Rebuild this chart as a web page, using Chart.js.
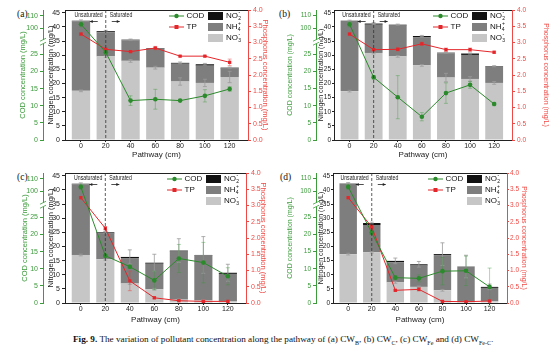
<!DOCTYPE html>
<html>
<head>
<meta charset="utf-8">
<script src="https://cdn.jsdelivr.net/npm/chart.js@4.4.1/dist/chart.umd.min.js"></script>
<style>
  body { margin: 0; width: 554px; height: 353px; position: relative; overflow: hidden; background: #fff; }
  canvas { position: absolute; }
  .tag { position: absolute; font-family: "Liberation Serif", "DejaVu Serif", serif; font-size: 9.5px; color: #111; }
  #caption { position: absolute; left: 73px; top: 334px; width: 420px; text-align: left; white-space: nowrap;
             font-family: "Liberation Serif", "DejaVu Serif", serif; font-size: 9.2px; color: #111; }
  #caption sub { font-size: 6px; }
</style>
</head>
<body>
<div class="tag" style="left:17px;top:9px">(a)</div>
<div class="tag" style="left:279px;top:9px">(b)</div>
<div class="tag" style="left:17px;top:172px">(c)</div>
<div class="tag" style="left:280px;top:172px">(d)</div>
<div id="caption"><b>Fig. 9.</b> The variation of pollutant concentration along the pathway of (a) CW<sub>B</sub>, (b) CW<sub>C</sub>, (c) CW<sub>Fe</sub> and (d) CW<sub>Fe-C</sub>.</div>

<script>
// sampling points along the flow path (cm)
const pathway = [0, 20, 40, 60, 80, 100, 120];
const codTicks = [0, 5, 10, 15, 20, 25, 100, 110];

// (a) CW-B
const nitrateA = [17.4, 29.6, 28.0, 25.6, 20.7, 20.2, 22.3];
const ammoniumA = [24.6, 8.5, 7.3, 6.7, 6.3, 6.1, 3.0];
const nitriteA = [0.2, 0.4, 0.2, 0.2, 0.3, 0.5, 0.3];
const nitrateErrA = [0.3, 0.3, 0.5, 0.5, 1.3, 1.3, 2.0];
const totalErrA = [0.3, 0.3, 0.2, 0.2, 0.3, 0.3, 0.2];
const codA = [103.2, 25.6, 11.5, 11.9, 11.5, 12.9, 14.9];
const codErrA = [2.0, 0.8, 1.4, 2.9, 0.2, 1.8, 0.7];
const tpA = [3.26, 2.79, 2.72, 2.83, 2.58, 2.58, 2.39];
const tpErrA = [0.03, 0.03, 0.03, 0.05, 0.02, 0.02, 0.1];

// (b) CW-C
const nitrateB = [17.3, 30.8, 29.6, 26.4, 22.1, 21.6, 20.2];
const ammoniumB = [24.8, 10.0, 10.9, 9.9, 8.6, 8.5, 5.7];
const nitriteB = [0.1, 0.4, 0.3, 0.5, 0.2, 0.5, 0.2];
const nitrateErrB = [0.3, 0.3, 0.3, 0.3, 1.5, 0.8, 0.5];
const totalErrB = [0.2, 0.3, 0.2, 0.2, 0.2, 0.2, 0.2];
const codB = [103.2, 18.3, 12.5, 6.8, 13.7, 16.1, 10.5];
const codErrB = [2.0, 0.5, 6.3, 1.2, 3.0, 1.0, 0.5];
const tpB = [3.26, 2.78, 2.79, 2.96, 2.78, 2.78, 2.70];
const tpErrB = [0.03, 0.03, 0.05, 0.05, 0.05, 0.05, 0.03];

// (c) CW-Fe
const nitrateC = [17.0, 15.5, 6.9, 4.9, 1.2, 1.0, 0.7];
const ammoniumC = [25.0, 9.1, 9.0, 9.0, 17.0, 15.8, 9.6];
const nitriteC = [0.2, 0.4, 0.4, 0.35, 0.35, 0.2, 0.4];
const nitrateErrC = [0.3, 0.3, 0.3, 0.3, 0.2, 0.2, 0.2];
const totalErrC = [0.3, 0.3, 2.5, 3.0, 4.2, 6.5, 3.0];
const codC = [103.5, 13.8, 10.6, 6.6, 13.0, 11.8, 7.8];
const codErrC = [2.0, 0.5, 0.5, 2.7, 4.1, 5.9, 2.5];
const tpC = [3.24, 2.30, 0.68, 0.16, 0.07, 0.05, 0.05];
const tpErrC = [0.03, 0.05, 0.3, 0.03, 0.02, 0.02, 0.02];

// (d) CW-Fe-C
const nitrateD = [17.3, 18.0, 7.3, 5.7, 4.5, 0.3, 0.6];
const ammoniumD = [24.9, 9.6, 7.15, 7.55, 12.45, 12.5, 4.75];
const nitriteD = [0.1, 0.7, 0.45, 0.45, 0.35, 0.1, 0.35];
const nitrateErrD = [0.3, 0.3, 0.3, 0.3, 0.3, 0.1, 0.1];
const totalErrD = [0.3, 0.3, 1.0, 1.0, 4.0, 4.0, 1.0];
const codD = [103.5, 20.5, 7.4, 7.2, 9.3, 9.4, 4.7];
const codErrD = [2.0, 0.5, 0.5, 1.0, 4.0, 4.3, 5.5];
const tpD = [3.24, 2.34, 0.39, 0.42, 0.05, 0.04, 0.06];
const tpErrD = [0.03, 0.05, 0.02, 0.05, 0.02, 0.01, 0.02];

const GREEN = '#2b8a2b';
const GREEN_AX = '#3c9c3c';
const RED = '#e4262a';
const RED_AX = '#ee4a45';
const LIGHT = '#c6c6c6';
const DARK = '#7e7e7e';
const BLACK = '#111111';
const INK = '#222222';

Chart.defaults.font.family = '"Liberation Sans", Arial, sans-serif';

// COD axis has a break: 0..28.7 fills the lower part, 89.4..114.5 the top part
const codBreak = { lowMax: 28.7, highMin: 89.4, highMax: 114.5, frac: 0.756 };

class BrokenScale extends Chart.LinearScale {
  buildTicks() {
    return codTicks.map(v => ({ value: v }));
  }
  getPixelForValue(v) {
    const b = codBreak;
    const f = v <= b.lowMax
      ? v / b.lowMax * b.frac
      : b.frac + (v - b.highMin) / (b.highMax - b.highMin) * (1 - b.frac);
    return this.getPixelForDecimal(f);
  }
  getValueForPixel(px) {
    const b = codBreak;
    const f = this.getDecimalForPixel(px);
    return f <= b.frac ? f / b.frac * b.lowMax : b.highMin + (f - b.frac) / (1 - b.frac) * (b.highMax - b.highMin);
  }
}
BrokenScale.id = 'broken';
Chart.register(BrokenScale);

function errBar(ctx, x, y1, y2, color) {
  ctx.strokeStyle = color;
  ctx.lineWidth = 0.8;
  ctx.beginPath();
  ctx.moveTo(x, y1); ctx.lineTo(x, y2);
  ctx.moveTo(x - 2, y1); ctx.lineTo(x + 2, y1);
  ctx.moveTo(x - 2, y2); ctx.lineTo(x + 2, y2);
  ctx.stroke();
}

function ionLabel(ctx, text, x, y) {
  // 'NO2-' -> NO with subscript 2 and superscript -
  ctx.font = '8px "Liberation Sans"';
  ctx.fillText(text.slice(0, 2), x, y);
  const w = ctx.measureText(text.slice(0, 2)).width;
  ctx.font = '5px "Liberation Sans"';
  ctx.fillText(text[2], x + w + 0.3, y + 2.5);
  ctx.fillText(text[3], x + w + 0.5, y - 3);
}

function makeExtras(p) {
  return {
    id: 'extras',
    afterDatasetDraw(chart, args) {
      if (args.index !== 2) return;
      const { ctx, scales } = chart;
      ctx.save();
      pathway.forEach((x, i) => {
        const px = scales.x.getPixelForValue(x);
        const total = p.nitrate[i] + p.ammonium[i] + p.nitrite[i];
        errBar(ctx, px, scales.n.getPixelForValue(p.nitrate[i] + p.nitrateErr[i]),
               scales.n.getPixelForValue(p.nitrate[i] - p.nitrateErr[i]), '#9a9a9a');
        errBar(ctx, px, scales.n.getPixelForValue(total + p.totalErr[i]),
               scales.n.getPixelForValue(total - p.totalErr[i]), '#9a9a9a');
        errBar(ctx, px, scales.cod.getPixelForValue(p.cod[i] + p.codErr[i]),
               scales.cod.getPixelForValue(p.cod[i] - p.codErr[i]), 'rgba(60,150,60,0.5)');
        errBar(ctx, px, scales.p.getPixelForValue(p.tp[i] + p.tpErr[i]),
               scales.p.getPixelForValue(p.tp[i] - p.tpErr[i]), 'rgba(230,60,60,0.55)');
      });
      ctx.restore();
    },
    afterDraw(chart) {
      const { ctx, chartArea: a, scales } = chart;
      const ds = chart.data.datasets;
      ctx.save();
      // top frame line
      ctx.strokeStyle = INK; ctx.lineWidth = 1;
      ctx.beginPath(); ctx.moveTo(a.left, a.top + 0.5); ctx.lineTo(a.right, a.top + 0.5); ctx.stroke();

      // unsaturated / saturated divider
      const lx = scales.x.getPixelForValue(20);
      ctx.setLineDash([3, 2]); ctx.strokeStyle = '#333'; ctx.lineWidth = 0.8;
      ctx.beginPath(); ctx.moveTo(lx, a.top); ctx.lineTo(lx, a.bottom); ctx.stroke();
      ctx.setLineDash([]);
      ctx.fillStyle = INK; ctx.textBaseline = 'middle';
      ctx.font = '6.5px "Liberation Sans"';
      ctx.save(); ctx.translate(lx - 3, a.top + 5); ctx.scale(0.8, 1);
      ctx.textAlign = 'right'; ctx.fillText('Unsaturated', 0, 0); ctx.restore();
      ctx.save(); ctx.translate(lx + 4, a.top + 5); ctx.scale(0.8, 1);
      ctx.textAlign = 'left'; ctx.fillText('Saturated', 0, 0); ctx.restore();
      const ay = a.top + 11.5;
      ctx.strokeStyle = INK; ctx.lineWidth = 0.8;
      [[lx - 8, lx - 16], [lx + 6, lx + 14]].forEach(([x1, x2]) => {
        const d = Math.sign(x2 - x1);
        ctx.beginPath(); ctx.moveTo(x1, ay); ctx.lineTo(x2, ay); ctx.stroke();
        ctx.beginPath(); ctx.moveTo(x2, ay); ctx.lineTo(x2 - d * 3, ay - 1.5); ctx.lineTo(x2 - d * 3, ay + 1.5);
        ctx.closePath(); ctx.fill();
      });

      // break mark on the COD axis
      const cs = scales.cod;
      const by = cs.getPixelForDecimal(codBreak.frac);
      const bx = cs.right;
      ctx.fillStyle = '#fff'; ctx.fillRect(bx - 4, by - 2, 8, 4);
      ctx.strokeStyle = GREEN_AX; ctx.lineWidth = 0.8;
      ctx.beginPath();
      ctx.moveTo(bx - 3, by - 0.5); ctx.lineTo(bx + 3, by - 3.5);
      ctx.moveTo(bx - 3, by + 3.5); ctx.lineTo(bx + 3, by + 0.5);
      ctx.stroke();

      // legend inside the plot
      ctx.textAlign = 'left'; ctx.textBaseline = 'middle';
      [0, 1].forEach((k, row) => {
        const d = ds[k];
        const y = a.top + 6 + row * 11;
        const x0 = a.right - 79;
        ctx.strokeStyle = d.borderColor; ctx.lineWidth = 1;
        ctx.beginPath(); ctx.moveTo(x0, y); ctx.lineTo(x0 + 15, y); ctx.stroke();
        ctx.fillStyle = d.borderColor;
        if (d.pointStyle === 'rect') ctx.fillRect(x0 + 5.5, y - 2, 4, 4);
        else { ctx.beginPath(); ctx.arc(x0 + 7.5, y, 2.2, 0, Math.PI * 2); ctx.fill(); }
        ctx.fillStyle = BLACK; ctx.font = '8px "Liberation Sans"';
        ctx.fillText(d.label, x0 + 17.5, y);
      });
      [4, 3, 2].forEach((k, row) => {
        const d = ds[k];
        const y = a.top + 6 + row * 11;
        const x0 = a.right - 40;
        ctx.fillStyle = d.backgroundColor; ctx.fillRect(x0, y - 4, 15, 8);
        ctx.fillStyle = BLACK;
        ionLabel(ctx, d.label, x0 + 18, y);
      });
      ctx.restore();
    }
  };
}

function makeChart(p) {
  const cv = document.createElement('canvas');
  cv.width = 277; cv.height = p.h;
  cv.style.left = p.left + 'px'; cv.style.top = p.top + 'px';
  document.body.appendChild(cv);
  const pts = arr => pathway.map((x, i) => ({ x, y: arr[i] }));
  const tickFont = { size: 7 };
  const sideFont = { size: p.sideTick };
  new Chart(cv, {
    type: 'bar',
    data: {
      datasets: [
        { type: 'line', label: 'COD', data: pts(p.cod), yAxisID: 'cod', order: 0,
          borderColor: GREEN, backgroundColor: GREEN, borderWidth: 1, tension: 0,
          pointStyle: 'circle', pointRadius: 2.3, pointBorderWidth: 0 },
        { type: 'line', label: 'TP', data: pts(p.tp), yAxisID: 'p', order: 0,
          borderColor: RED, backgroundColor: RED, borderWidth: 1, tension: 0,
          pointStyle: 'rect', pointRadius: 2.3, pointBorderWidth: 0 },
        { label: 'NO3-', data: pts(p.nitrate), yAxisID: 'n', stack: 'N', order: 1, backgroundColor: LIGHT },
        { label: 'NH4+', data: pts(p.ammonium), yAxisID: 'n', stack: 'N', order: 1, backgroundColor: DARK },
        { label: 'NO2-', data: pts(p.nitrite), yAxisID: 'n', stack: 'N', order: 1, backgroundColor: BLACK }
      ]
    },
    options: {
      responsive: false,
      animation: false,
      devicePixelRatio: 1,
      datasets: { bar: { categoryPercentage: 1, barPercentage: 0.74 } },
      layout: { padding: { left: p.padL, right: p.padR, top: 10, bottom: 1 } },
      plugins: { legend: { display: false }, tooltip: { enabled: false } },
      scales: {
        x: {
          type: 'linear', min: -12.9, max: 134.8, offset: false, stacked: true,
          afterFit: s => { s.height = p.xh; },
          ticks: { stepSize: 20, includeBounds: false, autoSkip: false, maxRotation: 0, padding: 0, font: tickFont, color: INK },
          grid: { drawOnChartArea: false, tickLength: 2, color: INK, offset: false },
          border: { color: INK },
          title: { display: true, text: 'Pathway (cm)', font: { size: 8 }, color: INK, padding: 0 }
        },
        n: {
          type: 'linear', position: 'left', weight: 0, stacked: true, min: 0, max: 46,
          afterFit: s => { s.width = p.nW; },
          ticks: { stepSize: 5, includeBounds: false, autoSkip: false, padding: p.nPad, font: sideFont, color: INK },
          grid: { drawOnChartArea: false, tickLength: p.nTick, color: INK },
          border: { color: INK },
          title: { display: true, text: 'Nitrogen concentration (mg/L)', font: { size: p.titleSize }, color: INK,
                   padding: { top: p.nTitlePad, bottom: 0 } }
        },
        cod: {
          type: 'broken', position: 'left', weight: 1, min: 0, max: codBreak.highMax,
          afterFit: s => { s.width = p.codW; },
          ticks: { autoSkip: false, padding: 2, font: sideFont, color: GREEN_AX, callback: v => String(v) },
          grid: { drawOnChartArea: false, tickLength: 3, color: GREEN_AX },
          border: { color: GREEN_AX },
          title: { display: true, text: 'COD concentration (mg/L)', font: { size: p.titleSize }, color: GREEN_AX,
                   padding: { top: 0, bottom: 0 } }
        },
        p: {
          type: 'linear', position: 'right', min: 0, max: 4,
          afterFit: s => { s.width = p.pW; },
          ticks: { stepSize: 0.5, autoSkip: false, padding: p.pPad, font: sideFont, color: RED_AX, callback: v => v.toFixed(1) },
          grid: { drawOnChartArea: false, tickLength: p.pTick, color: RED_AX },
          border: { color: RED_AX },
          title: { display: true, text: 'Phosphorus concentration (mg/L)', font: { size: p.titleSize }, color: RED_AX,
                   padding: { top: 0, bottom: 0 } }
        }
      }
    },
    plugins: [makeExtras(p)]
  });
}

const panels = [
  { left: 0, top: 0, h: 161, xh: 20, padL: 18, codW: 25, nW: 22, nTick: 3, nPad: 2, nTitlePad: 3,
    pW: 22, pTick: 3, pPad: 2, padR: 7, sideTick: 7, titleSize: 7.5,
    nitrate: nitrateA, ammonium: ammoniumA, nitrite: nitriteA, nitrateErr: nitrateErrA, totalErr: totalErrA,
    cod: codA, codErr: codErrA, tp: tpA, tpErr: tpErrA },
  { left: 277, top: 0, h: 161, xh: 20, padL: 9, codW: 30, nW: 18, nTick: 2, nPad: 1, nTitlePad: 0.5,
    pW: 38, pTick: 3, pPad: 2, padR: 4, sideTick: 6.5, titleSize: 7,
    nitrate: nitrateB, ammonium: ammoniumB, nitrite: nitriteB, nitrateErr: nitrateErrB, totalErr: totalErrB,
    cod: codB, codErr: codErrB, tp: tpB, tpErr: tpErrB },
  { left: 0, top: 163, h: 163, xh: 22, padL: 20, codW: 23, nW: 22, nTick: 3, nPad: 2, nTitlePad: 3,
    pW: 22, pTick: 3, pPad: 2, padR: 9, sideTick: 7, titleSize: 7.5,
    nitrate: nitrateC, ammonium: ammoniumC, nitrite: nitriteC, nitrateErr: nitrateErrC, totalErr: totalErrC,
    cod: codC, codErr: codErrC, tp: tpC, tpErr: tpErrC },
  { left: 277, top: 163, h: 163, xh: 22, padL: 9, codW: 30, nW: 17, nTick: 2, nPad: 1, nTitlePad: 0.5,
    pW: 21, pTick: 2, pPad: 1, padR: 26, sideTick: 6.5, titleSize: 7,
    nitrate: nitrateD, ammonium: ammoniumD, nitrite: nitriteD, nitrateErr: nitrateErrD, totalErr: totalErrD,
    cod: codD, codErr: codErrD, tp: tpD, tpErr: tpErrD }
];

panels.forEach(makeChart);
</script>
</body>
</html>
